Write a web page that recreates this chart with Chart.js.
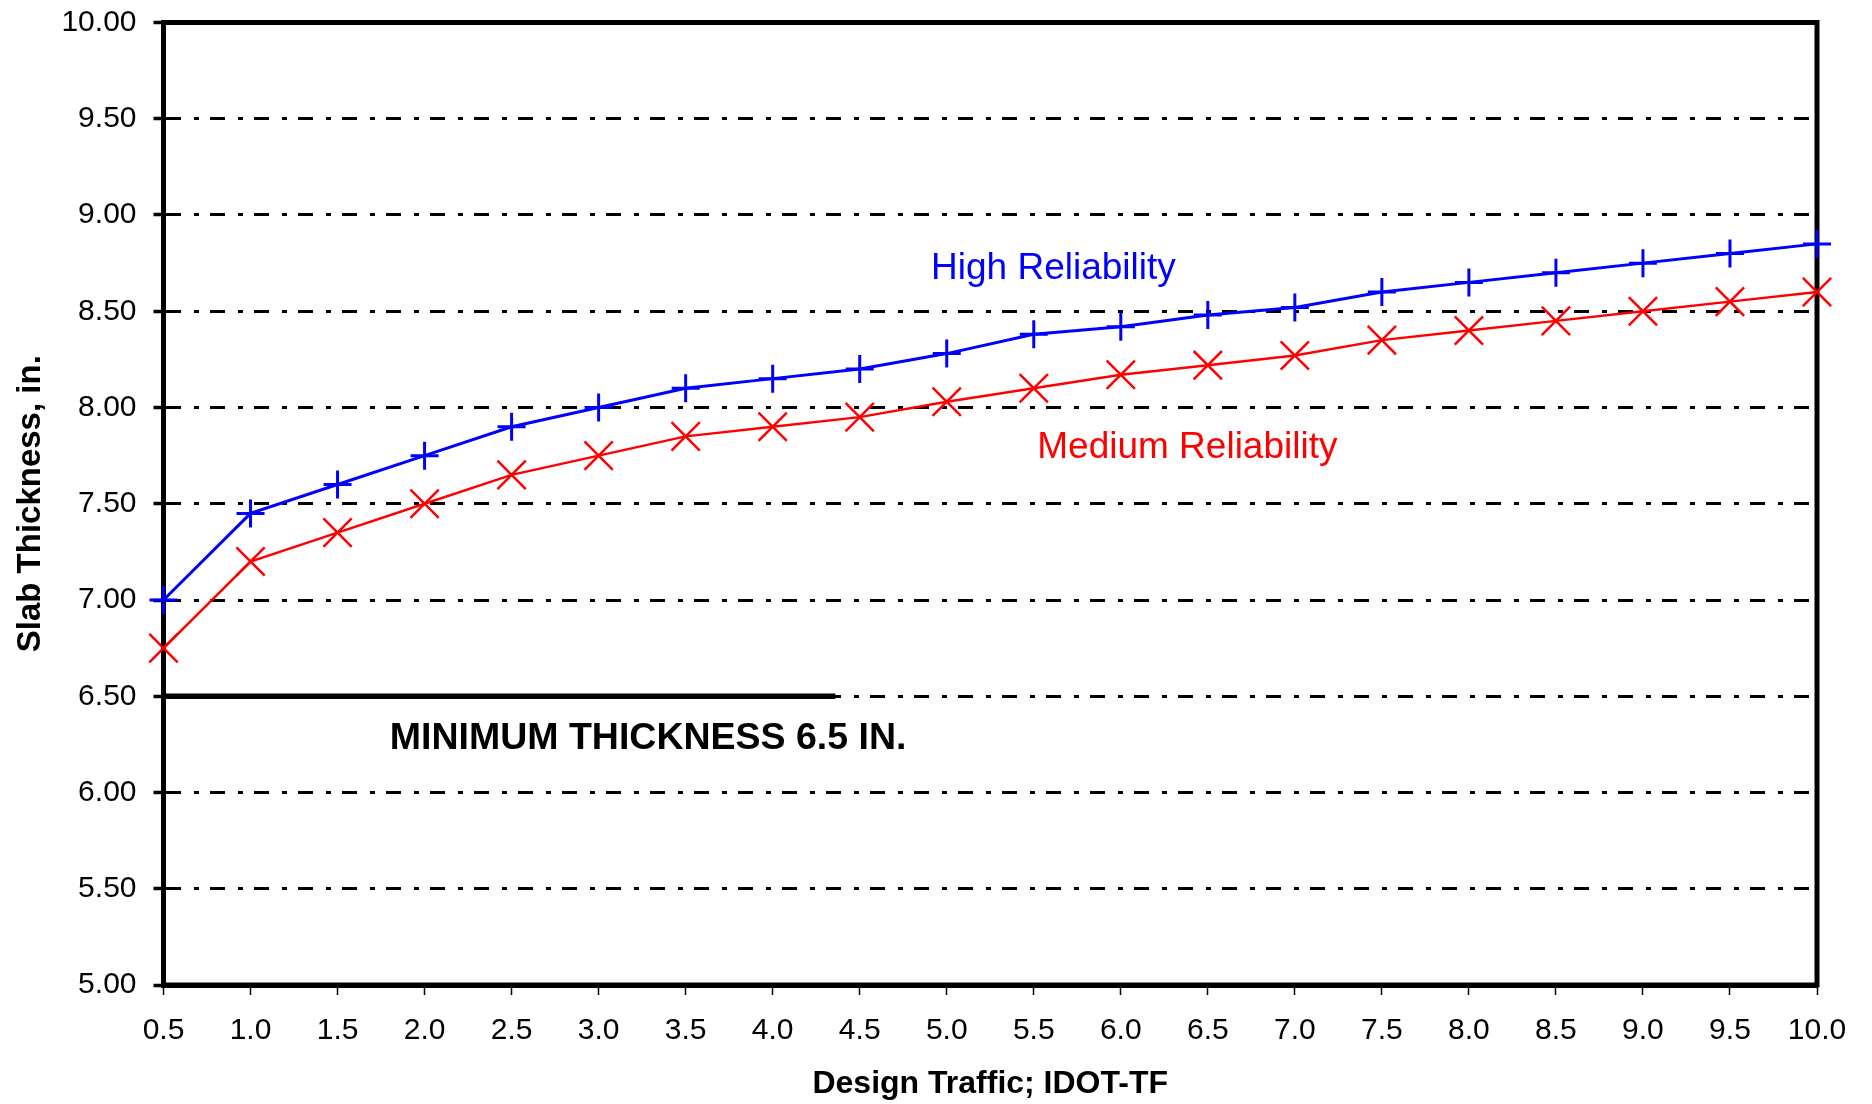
<!DOCTYPE html>
<html>
<head>
<meta charset="utf-8">
<script src="https://cdn.jsdelivr.net/npm/chart.js@4.4.0/dist/chart.umd.min.js"></script>
<style>
  html, body { margin: 0; padding: 0; background: #ffffff; }
  #c { display: block; }
</style>
</head>
<body>
<canvas id="c" width="1872" height="1104"></canvas>
<script>
// ---- data ----
const trafficLabels = ['0.5','1.0','1.5','2.0','2.5','3.0','3.5','4.0','4.5','5.0',
                       '5.5','6.0','6.5','7.0','7.5','8.0','8.5','9.0','9.5','10.0'];
const trafficValues = [0.5,1.0,1.5,2.0,2.5,3.0,3.5,4.0,4.5,5.0,5.5,6.0,6.5,7.0,7.5,8.0,8.5,9.0,9.5,10.0];
const highReliability   = [7.00,7.45,7.60,7.75,7.90,8.00,8.10,8.15,8.20,8.28,8.38,8.42,8.48,8.52,8.60,8.65,8.70,8.75,8.80,8.85];
const mediumReliability = [6.75,7.20,7.35,7.50,7.65,7.75,7.85,7.90,7.95,8.03,8.10,8.17,8.22,8.27,8.35,8.40,8.45,8.50,8.55,8.60];
const minThickness = 6.5;
const minLineX = [0.5, 4.36];
const yTickValues = [5.0,5.5,6.0,6.5,7.0,7.5,8.0,8.5,9.0,9.5,10.0];

// ---- annotations (text, data-space anchor) ----
const annotations = [
  { text: 'High Reliability',          x: 4.91, y: 8.667, color: '#0000FF', font: '37px "Liberation Sans", Arial, sans-serif' },
  { text: 'Medium Reliability',        x: 5.52, y: 7.736, color: '#FF0000', font: '37px "Liberation Sans", Arial, sans-serif' },
  { text: 'MINIMUM THICKNESS 6.5 IN.', x: 1.80, y: 6.227, color: '#000000', font: 'bold 37.5px "Liberation Sans", Arial, sans-serif' }
];

const FONT = '"Liberation Sans", Arial, sans-serif';
const toXY = (ys) => ys.map((v, i) => ({ x: trafficValues[i], y: v }));

const framePlugin = {
  id: 'frame',
  beforeDatasetsDraw(chart) {
    const { ctx, chartArea: a } = chart;
    ctx.save();
    ctx.strokeStyle = '#000';
    ctx.lineWidth = 5;
    ctx.strokeRect(a.left, a.top, a.right - a.left, a.bottom - a.top);
    ctx.restore();
  }
};

const annotationPlugin = {
  id: 'notes',
  afterDatasetsDraw(chart) {
    const { ctx, scales } = chart;
    ctx.save();
    ctx.textAlign = 'left';
    ctx.textBaseline = 'alphabetic';
    annotations.forEach(a => {
      ctx.font = a.font;
      ctx.fillStyle = a.color;
      ctx.fillText(a.text, scales.x.getPixelForValue(a.x), scales.y.getPixelForValue(a.y));
    });
    ctx.restore();
  }
};

new Chart(document.getElementById('c'), {
  type: 'line',
  data: {
    datasets: [
      {
        label: 'Minimum',
        data: minLineX.map(x => ({ x: x, y: minThickness })),
        borderColor: '#000000',
        borderWidth: 5.5,
        pointRadius: 0,
        clip: false,
        order: 3
      },
      {
        label: 'Medium Reliability',
        data: toXY(mediumReliability),
        borderColor: '#FF0000',
        borderWidth: 2.5,
        pointStyle: 'crossRot',
        pointRadius: 20,
        pointBorderWidth: 2.5,
        pointBorderColor: '#FF0000',
        tension: 0,
        clip: false,
        order: 2
      },
      {
        label: 'High Reliability',
        data: toXY(highReliability),
        borderColor: '#0000FF',
        borderWidth: 3,
        pointStyle: 'cross',
        pointRadius: 14,
        pointBorderWidth: 3,
        pointBorderColor: '#0000FF',
        tension: 0,
        clip: false,
        order: 1
      }
    ]
  },
  options: {
    responsive: false,
    animation: false,
    events: [],
    layout: { padding: { left: 0, right: 55, top: 19.5, bottom: 0 } },
    plugins: { legend: { display: false }, tooltip: { enabled: false } },
    scales: {
      x: {
        type: 'linear',
        min: 0.5,
        max: 10,
        afterFit(s) { s.height = 119; s.paddingLeft = 0; s.paddingRight = 0; },
        afterBuildTicks(s) { s.ticks = trafficValues.map(v => ({ value: v })); },
        ticks: {
          color: '#000',
          font: { family: FONT, size: 30 },
          padding: 18,
          maxRotation: 0,
          autoSkip: false,
          callback: (v, i) => trafficLabels[i]
        },
        grid: { drawOnChartArea: false, drawTicks: true, tickLength: 10, tickWidth: 1.5, tickColor: '#000' },
        border: { display: true, color: '#000', width: 5 },
        title: {
          display: true,
          text: 'Design Traffic; IDOT-TF',
          color: '#000',
          font: { family: FONT, size: 32, weight: 'bold' },
          padding: { top: 0, bottom: 1 }
        }
      },
      y: {
        type: 'linear',
        min: 5,
        max: 10,
        afterFit(s) { s.width = 163.5; s.paddingTop = 0; s.paddingBottom = 0; },
        afterBuildTicks(s) { s.ticks = yTickValues.map(v => ({ value: v })); },
        ticks: {
          color: '#000',
          font: { family: FONT, size: 30 },
          padding: 17,
          callback: (v) => Number(v).toFixed(2)
        },
        grid: {
          color: '#000',
          lineWidth: 3,
          drawTicks: true,
          tickLength: 10,
          tickWidth: 3.5,
          tickColor: '#000',
          tickBorderDash: []
        },
        border: { display: true, color: '#000', width: 5, dash: [15, 13, 5, 11] },
        title: {
          display: true,
          text: 'Slab Thickness, in.',
          color: '#000',
          font: { family: FONT, size: 33, weight: 'bold' },
          padding: { top: 11, bottom: 0 }
        }
      }
    }
  },
  plugins: [framePlugin, annotationPlugin]
});
</script>
</body>
</html>
